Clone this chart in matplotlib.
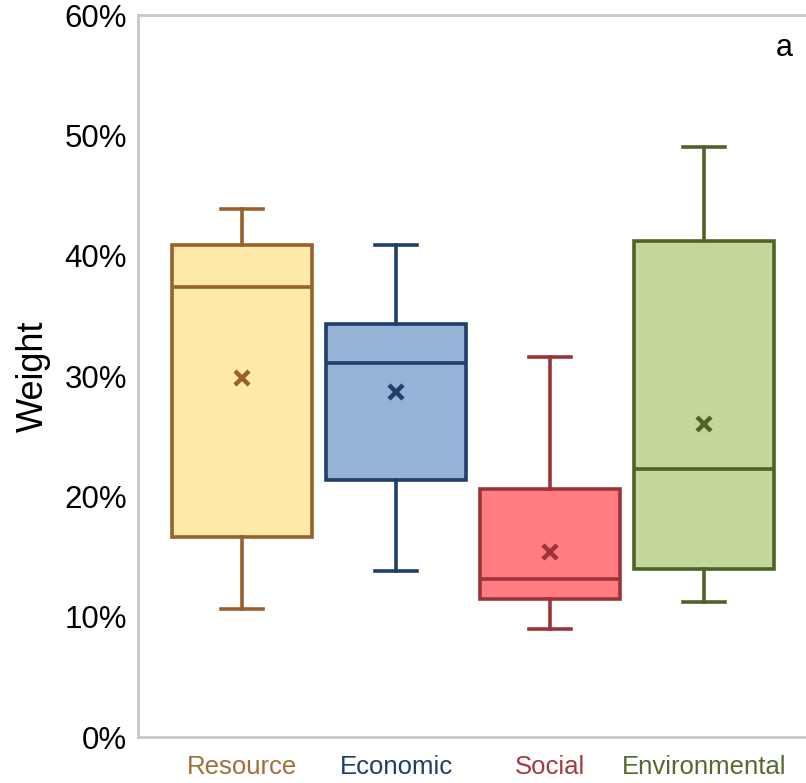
import matplotlib.pyplot as plt
from matplotlib.ticker import PercentFormatter

plt.rcParams['font.family'] = ['Liberation Sans', 'DejaVu Sans']

# Box-plot summary per weighting group (weights in %)
groups = ['Resource', 'Economic', 'Social', 'Environmental']
whis_low = [10.6, 13.8, 9.0, 11.2]
q1 = [16.6, 21.4, 11.5, 14.0]
medians = [37.4, 31.1, 13.1, 22.3]
q3 = [40.9, 34.3, 20.6, 41.2]
whis_high = [43.9, 40.9, 31.6, 49.0]
means = [29.8, 28.7, 15.4, 26.0]

fills = ['#FFE9A8', '#95B3D7', '#FF7C80', '#C4D79B']
edges = ['#98602C', '#1F3F6B', '#9B3338', '#4F6228']
label_colors = ['#A0703A', '#1F3F6B', '#A33B3F', '#566A2E']

fig = plt.figure(figsize=(8.06, 7.83), dpi=100)
ax = fig.add_axes([0.1712, 0.0587, 0.8288, 0.922])

positions = [1, 2, 3, 4]
for i, pos in enumerate(positions):
    stats = [{
        'whislo': whis_low[i], 'q1': q1[i], 'med': medians[i],
        'q3': q3[i], 'whishi': whis_high[i], 'mean': means[i],
        'fliers': [],
    }]
    lw = 2.6
    ax.bxp(stats, positions=[pos], widths=0.91, capwidths=0.27,
           patch_artist=True, showmeans=True, manage_ticks=False,
           boxprops=dict(facecolor=fills[i], edgecolor=edges[i], linewidth=lw),
           medianprops=dict(color=edges[i], linewidth=lw),
           whiskerprops=dict(color=edges[i], linewidth=lw),
           capprops=dict(color=edges[i], linewidth=lw),
           meanprops=dict(marker='x', markeredgecolor=edges[i],
                          markeredgewidth=3.2, markersize=10.5))

ax.set_xlim(0.325, 4.66)
ax.set_ylim(0, 60)
ax.yaxis.set_major_formatter(PercentFormatter(decimals=0))
ax.set_yticks(range(0, 61, 10))
ax.set_xticks(positions)
ax.set_xticklabels(groups, fontsize=18.5)
for lbl, c in zip(ax.get_xticklabels(), label_colors):
    lbl.set_color(c)
ax.tick_params(axis='y', length=0, labelsize=22.5, pad=8)
ax.tick_params(axis='x', length=0, pad=13)
ax.set_ylabel('Weight', fontsize=26, labelpad=10)

for side in ['left', 'top', 'bottom']:
    ax.spines[side].set_color('#C8C8C8')
    ax.spines[side].set_linewidth(2)
ax.spines['right'].set_visible(False)

ax.text(0.98, 0.955, 'a', transform=ax.transAxes, fontsize=22,
        ha='right', va='center')

fig.savefig('out.png', dpi=100)
